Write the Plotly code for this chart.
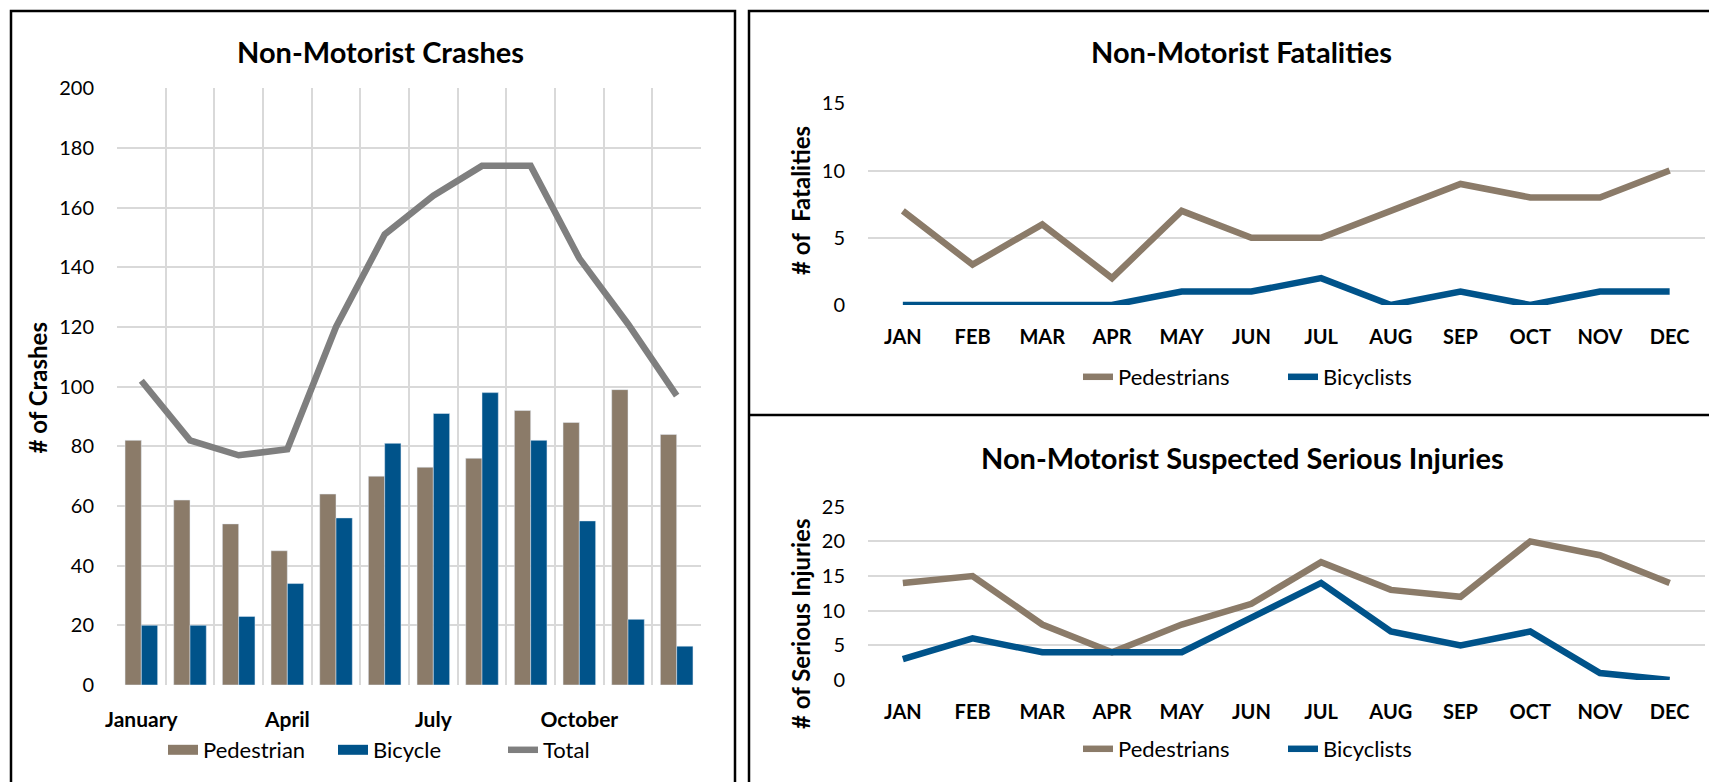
import plotly.graph_objects as go

# ---------------- data ----------------
months_long = ["January", "February", "March", "April", "May", "June",
               "July", "August", "September", "October", "November", "December"]
months_long_ticks = ["January", "", "", "April", "", "", "July", "", "", "October", "", ""]
crash_ped = [82, 62, 54, 45, 64, 70, 73, 76, 92, 88, 99, 84]
crash_bike = [20, 20, 23, 34, 56, 81, 91, 98, 82, 55, 22, 13]
crash_total = [102, 82, 77, 79, 120, 151, 164, 174, 174, 143, 121, 97]

months_short = ["JAN", "FEB", "MAR", "APR", "MAY", "JUN",
                "JUL", "AUG", "SEP", "OCT", "NOV", "DEC"]
fatal_ped = [7, 3, 6, 2, 7, 5, 5, 7, 9, 8, 8, 10]
fatal_bike = [0, 0, 0, 0, 1, 1, 2, 0, 1, 0, 1, 1]
inj_ped = [14, 15, 8, 4, 8, 11, 17, 13, 12, 20, 18, 14]
inj_bike = [3, 6, 4, 4, 4, 9, 14, 7, 5, 7, 1, 0]

# ---------------- styles ----------------
OFF = 8                      # page body margin
W, H = 1717 - OFF, 782 - OFF
BROWN = "#8B7B69"
BLUE = "#00538A"
GREY = "#7F7F7F"
GRID = "#D9D9D9"
FONT = "Lato"


def px(x):
    return (x - OFF) / W


def py(y):
    return 1 - (y - OFF) / H


fig = go.Figure()

# Left chart: crashes
fig.add_trace(go.Bar(x=months_long, y=crash_ped, name="Pedestrian", marker_color=BROWN,
                     xaxis="x", yaxis="y", showlegend=False))
fig.add_trace(go.Bar(x=months_long, y=crash_bike, name="Bicycle", marker_color=BLUE,
                     xaxis="x", yaxis="y", showlegend=False))
fig.add_trace(go.Scatter(x=months_long, y=crash_total, name="Total", mode="lines",
                         line=dict(color=GREY, width=6.5), xaxis="x", yaxis="y", showlegend=False))
# legend entries (wide swatches like the original)
fig.add_trace(go.Scatter(x=[None], y=[None], name="Pedestrian", mode="lines",
                         line=dict(color=BROWN, width=14), xaxis="x", yaxis="y", legend="legend"))
fig.add_trace(go.Scatter(x=[None], y=[None], name="Bicycle", mode="lines",
                         line=dict(color=BLUE, width=14), xaxis="x", yaxis="y", legend="legend"))
fig.add_trace(go.Scatter(x=[None], y=[None], name="Total", mode="lines",
                         line=dict(color=GREY, width=6.5), xaxis="x", yaxis="y", legend="legend"))

# Top right: fatalities
fig.add_trace(go.Scatter(x=months_short, y=fatal_ped, name="Pedestrians", mode="lines",
                         line=dict(color=BROWN, width=6.5), xaxis="x2", yaxis="y2", legend="legend2"))
fig.add_trace(go.Scatter(x=months_short, y=fatal_bike, name="Bicyclists", mode="lines",
                         line=dict(color=BLUE, width=6.5), xaxis="x2", yaxis="y2", legend="legend2"))

# Bottom right: serious injuries
fig.add_trace(go.Scatter(x=months_short, y=inj_ped, name="Pedestrians", mode="lines",
                         line=dict(color=BROWN, width=6.5), xaxis="x3", yaxis="y3", legend="legend3"))
fig.add_trace(go.Scatter(x=months_short, y=inj_bike, name="Bicyclists", mode="lines",
                         line=dict(color=BLUE, width=6.5), xaxis="x3", yaxis="y3", legend="legend3"))

tickfont = dict(family=FONT, size=20, color="#000000")
boldtick = dict(family=FONT, size=20, color="#000000", weight="bold")

common_y = dict(showgrid=True, gridcolor=GRID, gridwidth=2, zeroline=False, showline=False,
                ticks="", tickfont=tickfont, ticklabelstandoff=22, automargin=False)
common_x = dict(type="category", range=[-0.5, 11.5], showgrid=False, ticks="", showline=False,
                tickfont=boldtick, ticklabelstandoff=18, tickangle=0, automargin=False)

legfont = dict(family=FONT, size=22, color="#000000")

fig.update_layout(
    width=W, height=H, autosize=False,
    margin=dict(l=0, r=0, t=0, b=0, autoexpand=False),
    paper_bgcolor="white", plot_bgcolor="rgba(0,0,0,0)",
    barmode="group", bargap=0.33, bargroupgap=0,
    font=dict(family=FONT, color="#000000"),
    xaxis=dict(domain=[px(117), px(701)], anchor="y", type="category",
               range=[-0.5, 11.5], tickmode="array", tickvals=months_long,
               ticktext=months_long_ticks, tickson="boundaries", tickangle=0,
               showgrid=True, gridcolor=GRID, gridwidth=2, ticks="", showline=False,
               tickfont=dict(family=FONT, size=21, color="#000000", weight="bold"),
               ticklabelstandoff=20, automargin=False),
    yaxis=dict(domain=[py(685), py(88.3)], anchor="x", range=[0, 200], dtick=20, **common_y),
    xaxis2=dict(domain=[px(868), px(1704.5)], anchor="y2", **common_x),
    yaxis2=dict(domain=[py(305), py(103.3)], anchor="x2", range=[0, 15], dtick=5, **common_y),
    xaxis3=dict(domain=[px(868), px(1704.5)], anchor="y3", **common_x),
    yaxis3=dict(domain=[py(680), py(506.7)], anchor="x3", range=[0, 25], dtick=5, **common_y),
    legend=dict(orientation="h", x=px(163), xanchor="left", y=py(750), yanchor="middle",
                font=legfont, bgcolor="rgba(0,0,0,0)", traceorder="normal", entrywidth=125),
    legend2=dict(orientation="h", x=px(1078), xanchor="left", y=py(377), yanchor="middle",
                 font=legfont, bgcolor="rgba(0,0,0,0)", traceorder="normal", entrywidth=160),
    legend3=dict(orientation="h", x=px(1078), xanchor="left", y=py(749), yanchor="middle",
                 font=legfont, bgcolor="rgba(0,0,0,0)", traceorder="normal", entrywidth=160),
)

annotations = [
    dict(text="<b>Non-Motorist Crashes</b>", x=px(380), y=py(51.5), font=dict(size=29)),
    dict(text="<b>Non-Motorist Fatalities</b>", x=px(1241), y=py(51), font=dict(size=29)),
    dict(text="<b>Non-Motorist Suspected Serious Injuries</b>", x=px(1242), y=py(457), font=dict(size=29)),
    dict(text="<b># of Crashes</b>", x=px(36.5), y=py(388), textangle=-90, font=dict(size=24)),
    dict(text="<b># of\u00a0 Fatalities</b>", x=px(800), y=py(201), textangle=-90, font=dict(size=24)),
    dict(text="<b># of Serious Injuries</b>", x=px(800), y=py(624), textangle=-90, font=dict(size=24)),
]
for a in annotations:
    a.update(xref="paper", yref="paper", showarrow=False, xanchor="center", yanchor="middle")
    a["font"].update(family=FONT, color="#000000")
fig.update_layout(annotations=annotations)

border = dict(color="#000000", width=2.5)
fig.update_layout(shapes=[
    dict(type="rect", xref="paper", yref="paper", x0=px(11), x1=px(735), y0=py(820), y1=py(11),
         line=border, fillcolor="rgba(0,0,0,0)", layer="above"),
    dict(type="rect", xref="paper", yref="paper", x0=px(749), x1=px(1760), y0=py(820), y1=py(11),
         line=border, fillcolor="rgba(0,0,0,0)", layer="above"),
    dict(type="line", xref="paper", yref="paper", x0=px(749), x1=px(1760), y0=py(415), y1=py(415),
         line=border, layer="above"),
])

fig.write_html("out.html")
